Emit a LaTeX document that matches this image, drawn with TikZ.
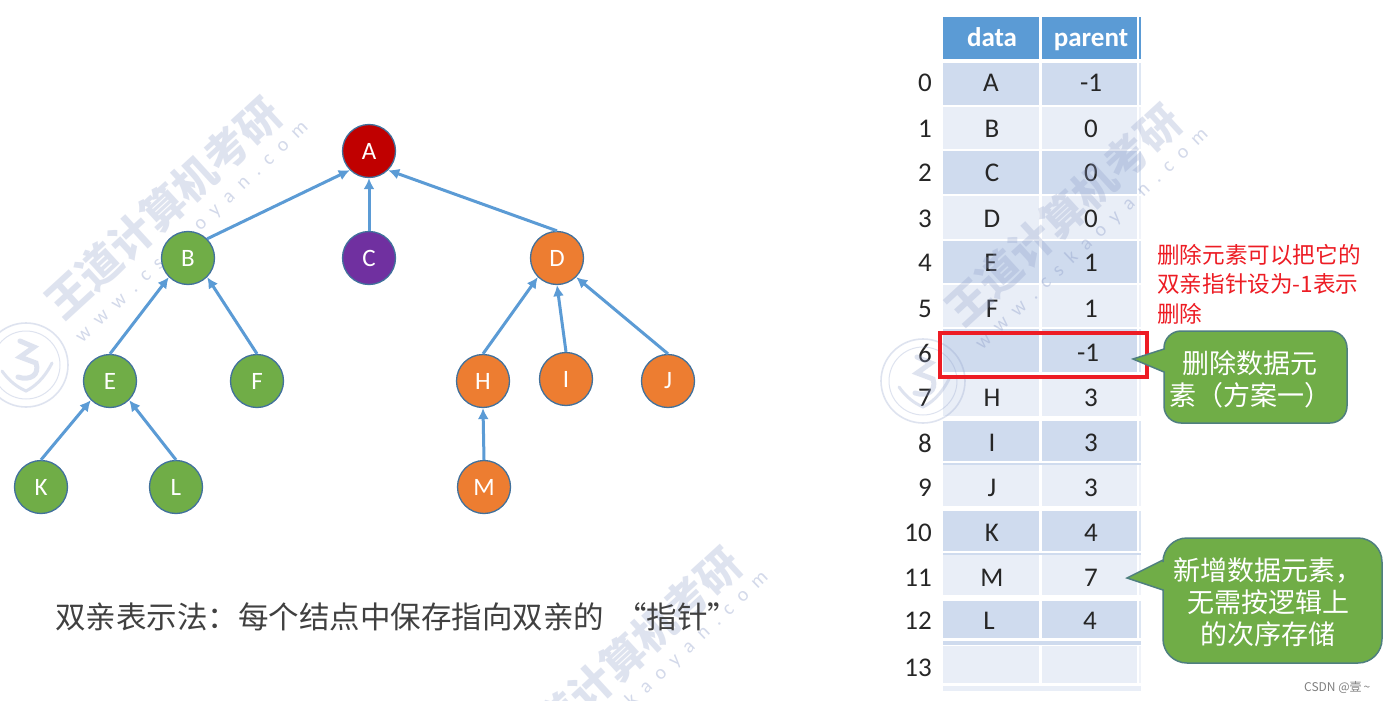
\documentclass[tikz,border=0pt]{standalone}
\usepackage{fontspec}
\setmainfont{Carlito}
\newfontfamily\cjk{Noto Sans CJK SC}
\usetikzlibrary{arrows.meta}
\definecolor{hdr}{HTML}{5B9BD5}
\definecolor{rowd}{HTML}{CFDBEE}
\definecolor{rowl}{HTML}{E9EEF7}
\definecolor{edgeblue}{HTML}{5B9BD5}
\definecolor{ringblue}{HTML}{41719C}
\definecolor{cred}{HTML}{C00000}
\definecolor{cpurple}{HTML}{7030A0}
\definecolor{cgreen}{HTML}{70AD47}
\definecolor{corange}{HTML}{ED7D31}
\definecolor{wm}{HTML}{8C9CC8}
\definecolor{redbox}{HTML}{ED1C24}
\definecolor{calloutline}{HTML}{4F7F7F}
\tikzset{
  treenode/.style={circle,draw=ringblue,line width=1.3pt,minimum size=53pt,inner sep=0pt,text=white,font=\fontsize{25}{25}\selectfont},
  treeedge/.style={edgeblue,line width=3pt,-{Latex[length=11pt,width=11pt]}},
  celltext/.style={text=black!85,font=\fontsize{27}{27}\selectfont,inner sep=0pt},
  idxtext/.style={celltext,anchor=east},
  hdrtext/.style={text=white,font=\bfseries\fontsize{27}{27}\selectfont,inner sep=0pt,anchor=base},
  callout/.style={fill=cgreen,draw=calloutline,line width=1.5pt},
  callouttext/.style={text=white,align=center,font=\cjk\fontsize{27}{32}\selectfont,inner sep=0pt},
  wmcjk/.style={text=wm,opacity=.28,rotate=42.5,inner sep=0pt,font=\cjk\bfseries\fontsize{43}{43}\selectfont},
  wmweb/.style={text=wm,opacity=.38,rotate=43.5,inner sep=0pt,font=\fontsize{20}{20}\selectfont},
  wmring/.style={draw=wm,opacity=.28},
}
\begin{document}
\begin{tikzpicture}[x=1pt,y=-1pt]
\useasboundingbox (0,0) rectangle (1385,701);
\fill[white] (0,0) rectangle (1385,701);
% table
\fill[hdr] (943,17) rectangle (1039,59);
\fill[hdr] (1042,17) rectangle (1137,59);
\fill[hdr] (1139,17) rectangle (1141,59);
\foreach \t/\b/\c in {63/105/rowd,107/149/rowl,151/194/rowd,196/239/rowl,241/283/rowd,285/327/rowl,329/372/rowd,375/416/rowl,421/461/rowd,465/506/rowl,511/551/rowd,555/595/rowl,601/638/rowd,646/683/rowl}{
  \fill[\c] (943,\t) rectangle (1039,\b);
  \fill[\c] (1042,\t) rectangle (1137,\b);
  \fill[\c!70!white] (1139,\t) rectangle (1141,\b);
}
\fill[rowd] (943,463) rectangle (1141,465);
\fill[rowd] (943,553) rectangle (1141,555);
\fill[rowd] (943,641) rectangle (1141,645);
\fill[rowl] (943,686) rectangle (1141,691);
\node[hdrtext] (hdata) at (992,47) {data};
\node[hdrtext] (hparent) at (1091,47) {parent};
\foreach \i/\y/\d/\dx/\p/\px in {0/83/A/991/-1/1091,1/129/B/992/0/1091,2/173/C/992/0/1091,3/219/D/992/0/1091,4/263/E/991/1/1091,5/309/F/992/1/1091,6/353//992/-1/1088,7/398/H/992/3/1091,8/443/I/992/3/1091,9/488/J/992/3/1091,10/533/K/992/4/1091,11/578/M/992/7/1091,12/621/L/989/4/1090,13/668//992//1091}{
  \node[idxtext] (idx\i) at (932,\y) {\i};
  \node[celltext] (data\i) at (\dx,\y) {\d};
  \node[celltext] (par\i) at (\px,\y) {\p};
}
% watermarks
\begin{scope}
\clip (0,0) rectangle (1385,701);
\foreach \n/\dx/\dy in {a/0/0,b/900/7,c/460/450}{
  \node[wmcjk] (wmt\n) at (163+\dx,208+\dy) {王道计算机考研};
  \node[wmweb] (wmw\n) at (192+\dx,232+\dy) {w\,\,\,w\,\,\,w\,\,\,.\,\,\,c\,\,\,s\,\,\,k\,\,\,a\,\,\,o\,\,\,y\,\,\,a\,\,\,n\,\,\,.\,\,\,c\,\,\,o\,\,\,m};
}
\foreach \lx/\ly in {26/365,923/381}{
  \begin{scope}[shift={(\lx,\ly)}]
    \draw[wmring,line width=1.6pt] (0,0) circle[radius=42];
    \draw[wmring,line width=1pt] (0,0) circle[radius=34];
    \draw[wmring,line width=5pt,line cap=round] (-6,-24) -- (8,-18) -- (-6,-8) -- (10,-2) .. controls (14,10) and (4,16) .. (-8,12);
    \draw[wmring,line width=3pt,line cap=round] (-24,6) .. controls (-14,20) and (-4,24) .. (0,26) .. controls (8,22) and (18,14) .. (26,-2);
  \end{scope}
}
\end{scope}
% tree
\node[treenode,fill=cred] (A) at (369,151) {A};
\node[treenode,fill=cgreen] (B) at (188,258) {B};
\node[treenode,fill=cpurple] (C) at (369,258) {C};
\node[treenode,fill=corange] (D) at (557,258) {D};
\node[treenode,fill=cgreen] (E) at (110,381) {E};
\node[treenode,fill=cgreen] (F) at (257,381) {F};
\node[treenode,fill=corange] (H) at (483,381) {H};
\node[treenode,fill=corange] (I) at (566,379) {I};
\node[treenode,fill=corange] (J) at (668,381) {J};
\node[treenode,fill=cgreen] (K) at (41,487) {K};
\node[treenode,fill=cgreen] (L) at (176,487) {L};
\node[treenode,fill=corange] (M) at (484,487) {M};
\draw[treeedge] (B.45) -- (A.225);
\draw[treeedge] (C.north) -- (A.south);
\draw[treeedge] (D.north) -- (A.-45);
\draw[treeedge] (E.north) -- (B.225);
\draw[treeedge] (F.north) -- (B.-45);
\draw[treeedge] (H.north) -- (D.225);
\draw[treeedge] (I.north) -- (D.south);
\draw[treeedge] (J.north) -- (D.-45);
\draw[treeedge] (K.north) -- (E.225);
\draw[treeedge] (L.north) -- (E.-45);
\draw[treeedge] (M.north) -- (H.south);
% caption
\node[anchor=west,inner sep=0pt,text=black!75,font=\cjk\fontsize{30.5}{30.5}\selectfont] (caption) at (55,617) {双亲表示法：每个结点中保存指向双亲的\hspace{12pt}“指针”};
% red note and box
\node[anchor=west,inner sep=0pt,align=left,text=redbox,font=\cjk\fontsize{22.6}{29.5}\selectfont] (note) at (1157,284) {删除元素可以把它的\\双亲指针设为-1表示\\删除};
\draw[redbox,line width=3.5pt] (940,333) rectangle (1147,377);
% callouts
\draw[callout] (1164,372) [rounded corners=17pt]-- (1164,423) -- (1347,423) -- (1347,331) -- (1164,331) [sharp corners]-- (1164,349) -- (1133,359) -- cycle;
\node[callouttext] (c1) at (1250,379) {删除数据元\\素（方案一）};
\draw[callout] (1163,590) [rounded corners=24pt]-- (1163,663) -- (1382,663) -- (1382,538) -- (1163,538) [sharp corners]-- (1163,560) -- (1127,578) -- cycle;
\node[callouttext] (c2) at (1268,602) {新增数据元素，\\无需按逻辑上\\的次序存储};
% credit
\node[anchor=west,inner sep=0pt,text=black!50,font=\cjk\fontsize{12}{12}\selectfont] (credit) at (1304,687) {CSDN @壹\,\textasciitilde};
\end{tikzpicture}
\end{document}
